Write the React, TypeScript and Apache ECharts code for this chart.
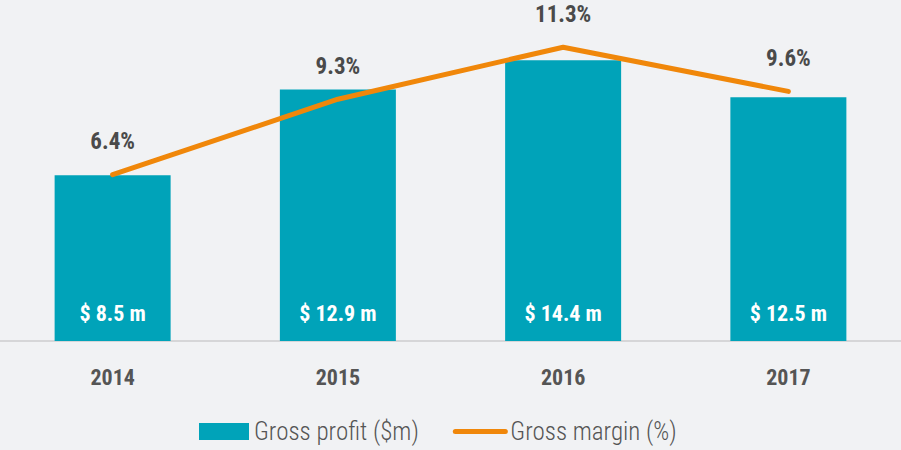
import React, { useEffect, useRef } from "react";
import * as echarts from "echarts";

const years = ["2014", "2015", "2016", "2017"];
const grossProfit = [8.5, 12.9, 14.4, 12.5];
const grossMargin = [6.4, 9.3, 11.3, 9.6];
const profitLabels = ["$ 8.5 m", "$ 12.9 m", "$ 14.4 m", "$ 12.5 m"];

const FONT = "'Roboto Condensed', 'Open Sans', sans-serif";
const BG = "#f1f2f4";
const TEAL = "#00a3b9";
const ORANGE = "#f0870a";

export default function App() {
  const ref = useRef<HTMLDivElement>(null);
  useEffect(() => {
    document.body.style.margin = "0";
    document.body.style.background = BG;
    const chart = echarts.init(ref.current!, null, { renderer: "svg" });
    chart.setOption({
      animation: false,
      backgroundColor: BG,
      textStyle: { fontFamily: FONT },
      grid: { left: 0, right: 0, top: 29, bottom: 109, containLabel: false },
      legend: {
        bottom: 1,
        left: 194,
        itemWidth: 50,
        itemHeight: 17,
        itemGap: 34,
        textStyle: { fontFamily: FONT, fontSize: 25, fontWeight: 300, color: "#555" },
        data: [
          { name: "Gross profit ($m)", icon: "rect" },
          {
            name: "Gross margin (%)",
            itemStyle: { opacity: 0 },
            lineStyle: { color: ORANGE, width: 5, cap: "round" },
          },
        ],
      },
      xAxis: {
        type: "category",
        data: years,
        axisLine: { lineStyle: { color: "#d6d6d8", width: 2 } },
        axisTick: { show: false },
        axisLabel: {
          margin: 25,
          fontFamily: FONT,
          fontSize: 22,
          fontWeight: "bold",
          color: "#555",
        },
      },
      yAxis: [
        { type: "value", min: 0, max: 16, show: false, splitLine: { show: false } },
        { type: "value", min: 0, max: 12, show: false, splitLine: { show: false } },
      ],
      series: [
        {
          name: "Gross profit ($m)",
          type: "bar",
          data: grossProfit,
          barWidth: "51.5%",
          itemStyle: { color: TEAL },
          label: {
            show: true,
            position: "insideBottom",
            distance: 17,
            formatter: (p: any) => profitLabels[p.dataIndex],
            fontFamily: FONT,
            fontSize: 22,
            fontWeight: "bold",
            color: "#ffffff",
          },
        },
        {
          name: "Gross margin (%)",
          type: "line",
          yAxisIndex: 1,
          data: grossMargin,
          symbol: "circle",
          symbolSize: 1,
          showSymbol: true,
          lineStyle: { color: ORANGE, width: 5, cap: "round", join: "round" },
          itemStyle: { color: ORANGE },
          label: {
            show: true,
            position: "top",
            distance: 21,
            formatter: (p: any) => p.value + "%",
            fontFamily: FONT,
            fontSize: 23,
            fontWeight: "bold",
            color: "#4a4a4a",
          },
        },
      ],
    });
    return () => chart.dispose();
  }, []);
  return <div ref={ref} style={{ width: 901, height: 450, background: BG }} />;
}
